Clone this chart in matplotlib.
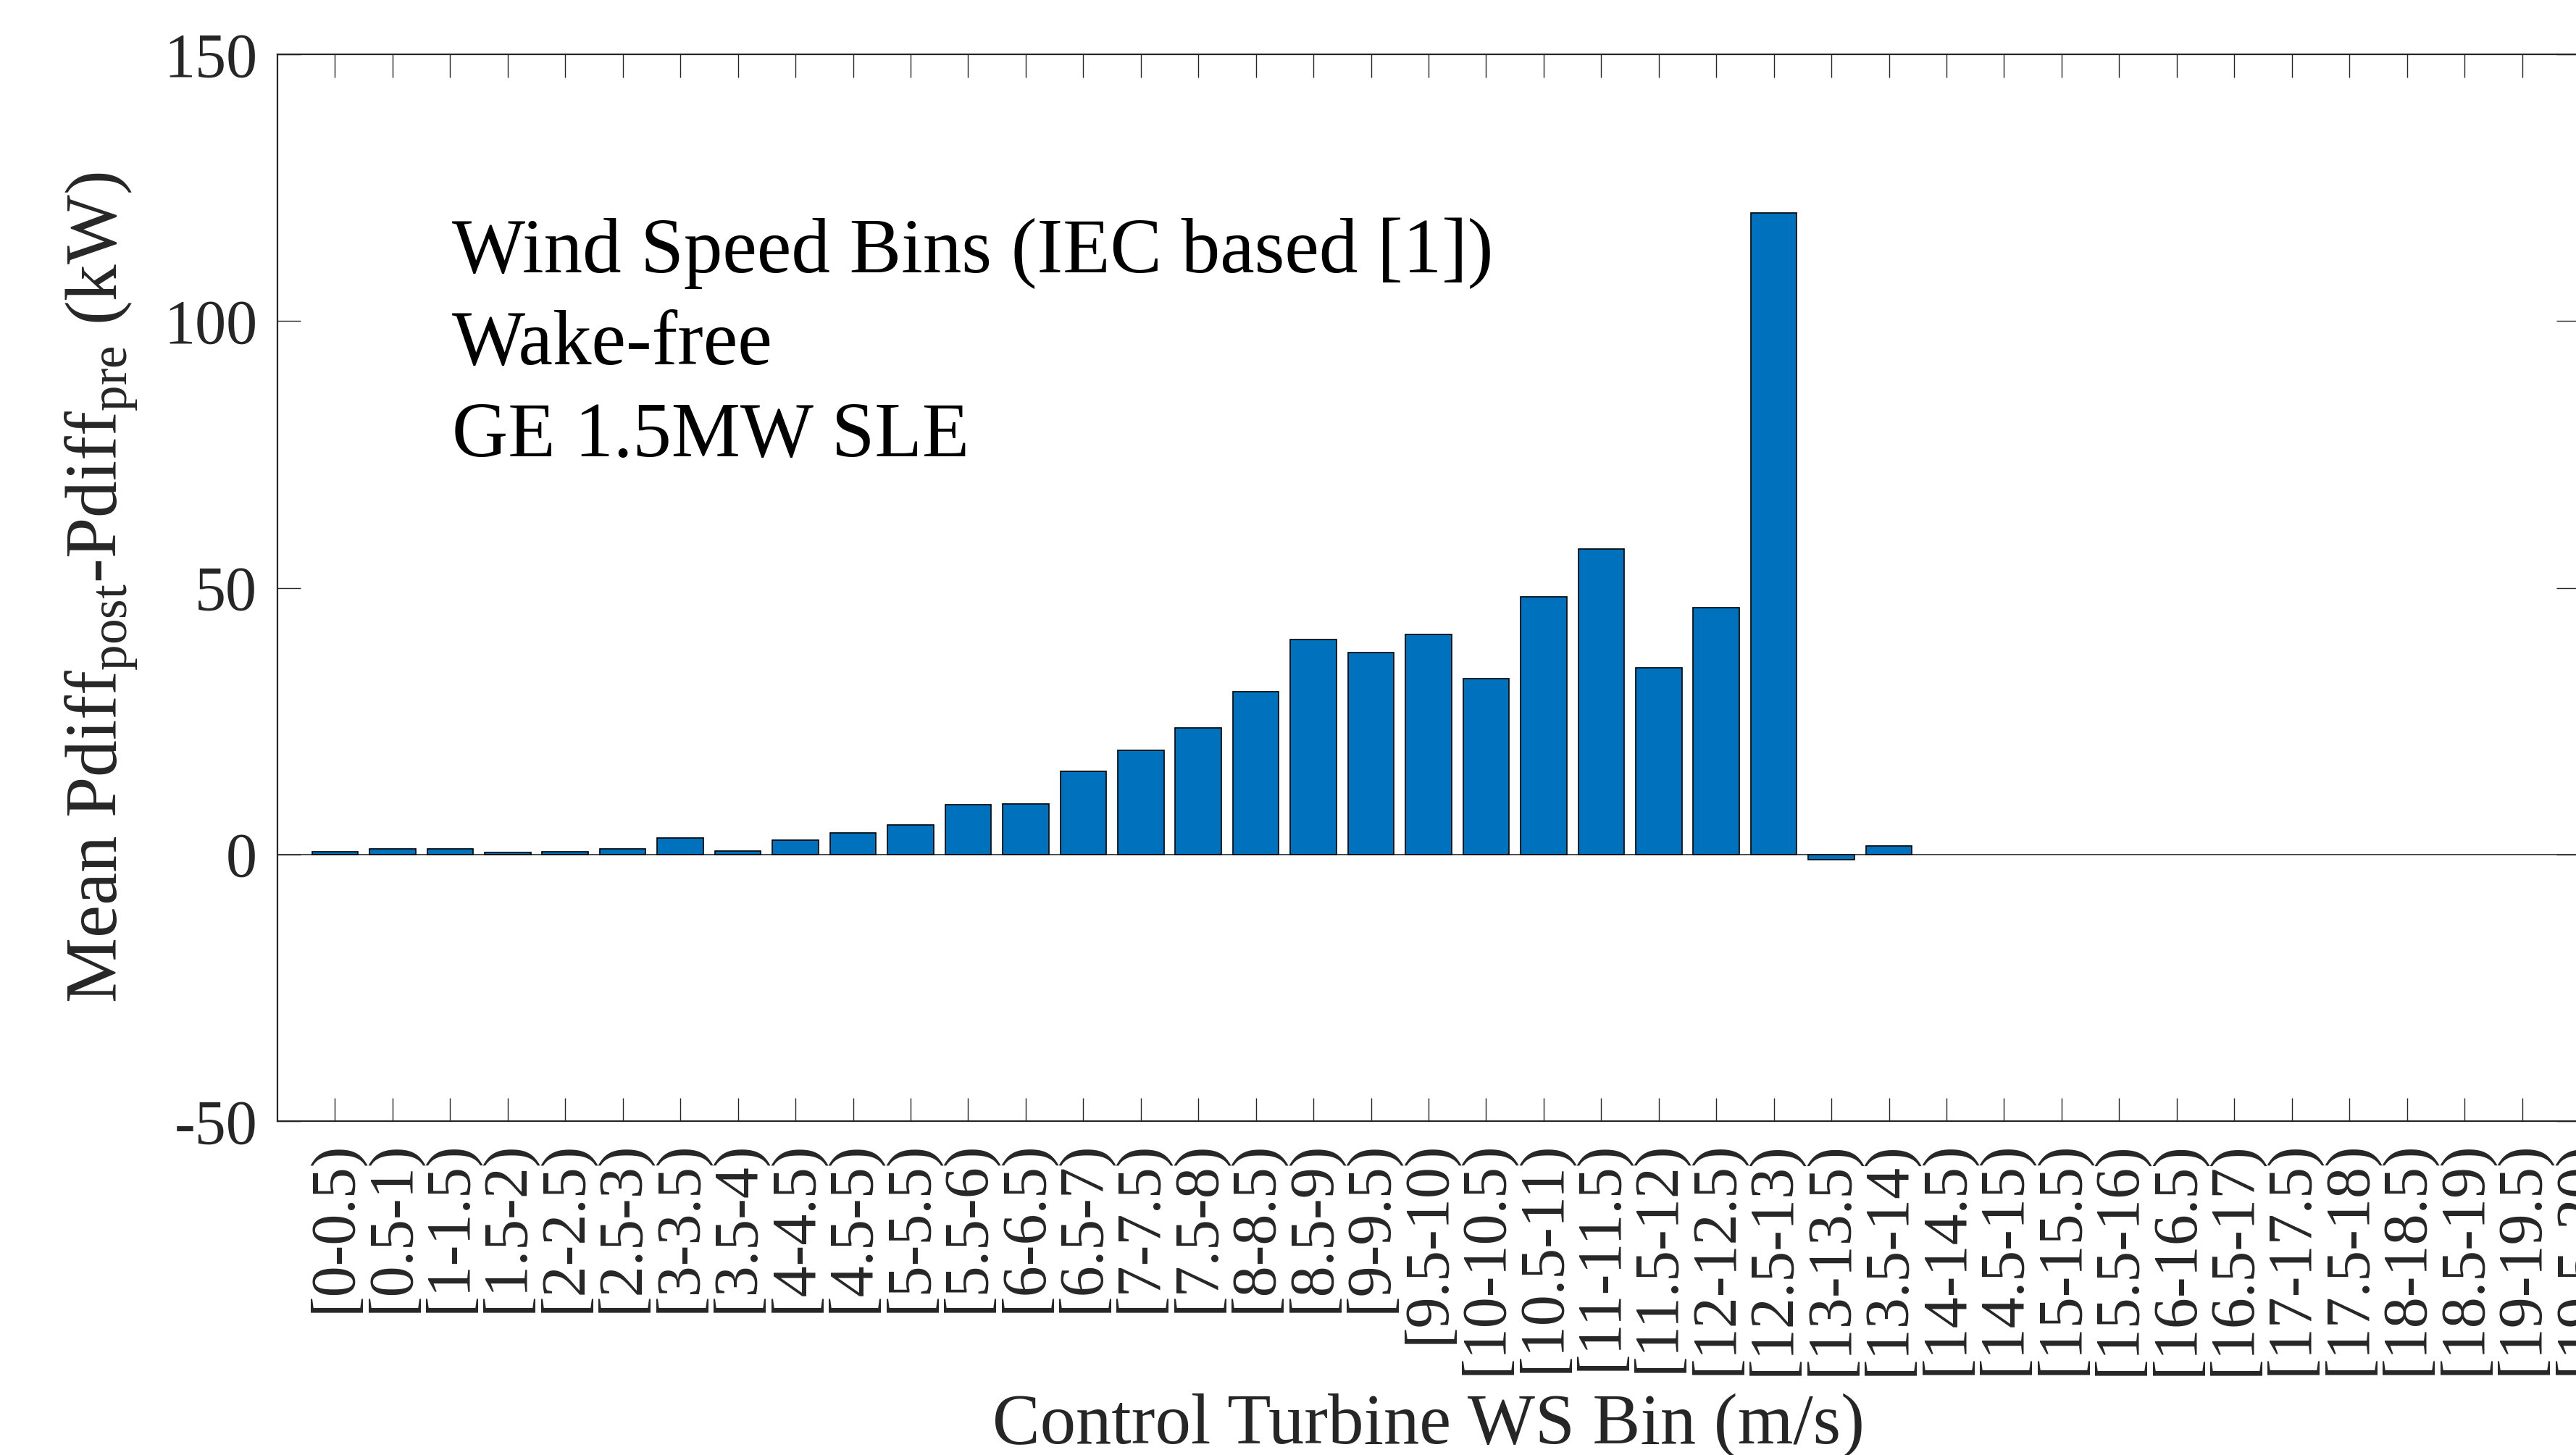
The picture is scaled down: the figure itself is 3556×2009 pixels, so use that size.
import numpy as np
import matplotlib; matplotlib.use('Agg')
import matplotlib.pyplot as plt

#===============================================================================
# Data (mean power difference per control-turbine wind speed bin)
#===============================================================================
bin_labels = ['[0-0.5)', '[0.5-1)', '[1-1.5)', '[1.5-2)', '[2-2.5)', '[2.5-3)',
              '[3-3.5)', '[3.5-4)', '[4-4.5)', '[4.5-5)', '[5-5.5)', '[5.5-6)',
              '[6-6.5)', '[6.5-7)', '[7-7.5)', '[7.5-8)', '[8-8.5)', '[8.5-9)',
              '[9-9.5)', '[9.5-10)', '[10-10.5)', '[10.5-11)', '[11-11.5)',
              '[11.5-12)', '[12-12.5)', '[12.5-13)', '[13-13.5)', '[13.5-14)',
              '[14-14.5)', '[14.5-15)', '[15-15.5)', '[15.5-16)', '[16-16.5)',
              '[16.5-17)', '[17-17.5)', '[17.5-18)', '[18-18.5)', '[18.5-19)',
              '[19-19.5)', '[19.5-20)']
pdiff = [0.5, 1.0, 1.0, 0.4, 0.5, 1.1, 3.1, 0.7, 2.7, 4.1, 5.5, 9.3,
         9.5, 15.6, 19.5, 23.7, 30.5, 40.3, 37.8, 41.2, 32.9, 48.3, 57.3,
         35.0, 46.3, 120.3, -0.95, 1.6]
# no data above 14 m/s
pdiff = pdiff + [np.nan] * (len(bin_labels) - len(pdiff))

note_lines = ['Wind Speed Bins (IEC based [1])', 'Wake-free', 'GE 1.5MW SLE']
yticks = [-50, 0, 50, 100, 150]

#===============================================================================
# Style
#===============================================================================
plt.rcParams['font.family'] = ['Liberation Serif', 'DejaVu Serif']
plt.rcParams['mathtext.fontset'] = 'custom'
plt.rcParams['mathtext.rm'] = 'Liberation Serif'
plt.rcParams['mathtext.it'] = 'Liberation Serif:italic'
plt.rcParams['axes.unicode_minus'] = False
axcol = '#262626'

W, H = 3556, 2009
fig = plt.figure(figsize=(W/100., H/100.), dpi=100)
left, right, top, bottom = 383, 3561, 75, 1548
ax = fig.add_axes([left/W, 1-bottom/H, (right-left)/W, (bottom-top)/H])

x = np.arange(1, len(bin_labels)+1)
ax.bar(x, pdiff, width=0.8, color='#0072BD', edgecolor='black', linewidth=1.2, zorder=2)
ax.axhline(0, color='#3c3c3c', lw=1.3, zorder=1)

ax.set_xlim(0, 40)
ax.set_ylim(-50, 150)
ax.set_yticks(yticks)
ax.set_yticklabels([str(v) for v in yticks])
ax.set_xticks(x)
ax.set_xticklabels(bin_labels, rotation=90, ha='center', va='top')

ax.tick_params(axis='both', direction='in', length=23, width=1.0, color=axcol,
               labelcolor=axcol, labelsize=62, pad=20, top=True, right=True)
for s in ax.spines.values():
  s.set_color(axcol)
  s.set_linewidth(1.6)

ax.set_xlabel('Control Turbine WS Bin (m/s)', fontsize=71, color=axcol)
ax.xaxis.set_label_coords(0.5, -0.255)
ax.set_ylabel(r'Mean Pdiff$_{\rm post}$-Pdiff$_{\rm pre}$ (kW)', fontsize=73, color=axcol)
ax.yaxis.set_label_coords(-0.06, 0.5)

# annotation block in the upper left
baselines = [376, 503, 630]
for line, yb in zip(note_lines, baselines):
  ax.text((624-left)/(right-left), (bottom-yb)/(bottom-top), line, transform=ax.transAxes,
          fontsize=77, color='black', ha='left', va='baseline')

fig.savefig('out.png', dpi=100)
